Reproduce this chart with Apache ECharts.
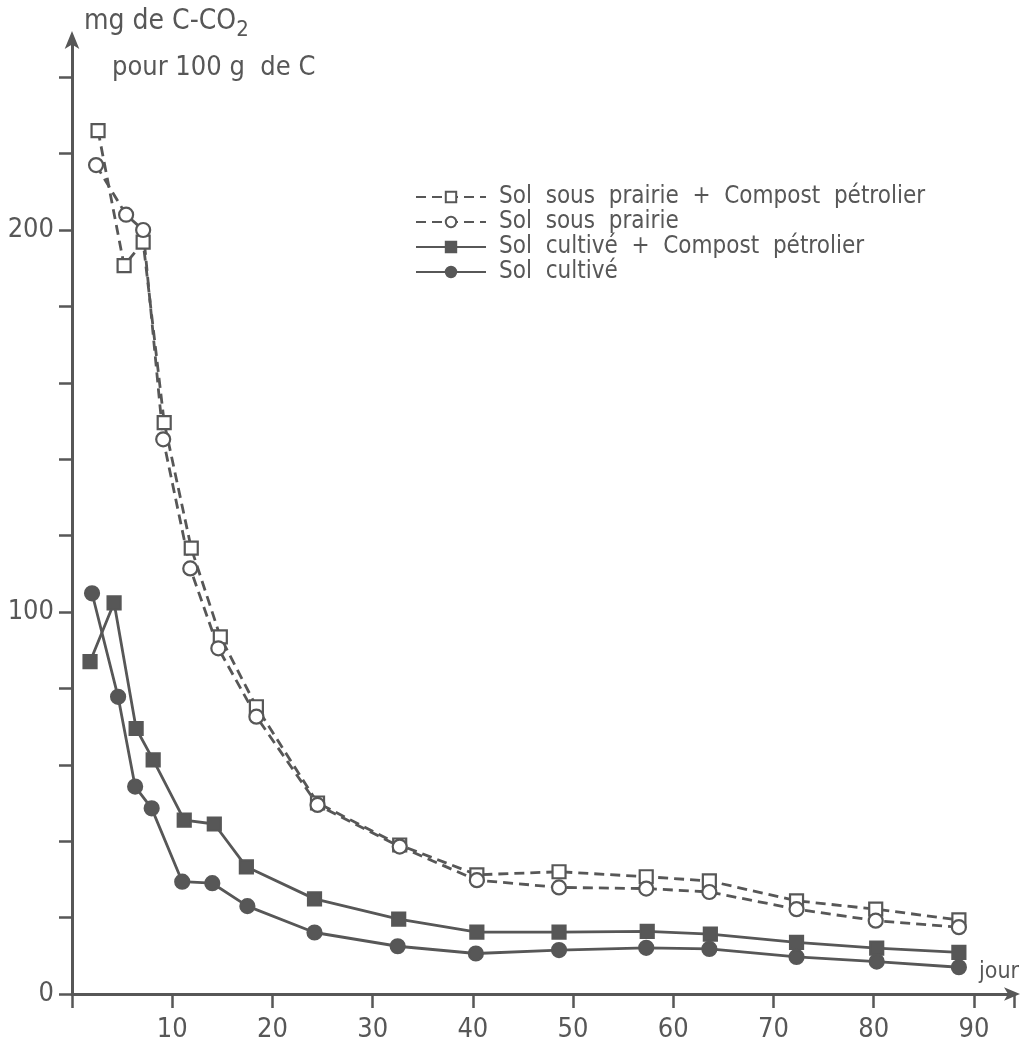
<!DOCTYPE html>
<html>
<head>
<meta charset="utf-8">
<title>Dégagement de C-CO2</title>
<script src="https://cdn.jsdelivr.net/npm/echarts@6/dist/echarts.min.js"></script>
<style>
  html, body { margin: 0; padding: 0; background: #ffffff; }
  #chart { width: 1020px; height: 1050px; }
</style>
</head>
<body>
<div id="chart"></div>
<script>
// Incubation days (jour) and C-CO2 released (mg per 100 g of C) for each soil
const prairieCompostDays = [2.6, 5.2, 7.1, 9.2, 11.9, 14.8, 18.4, 24.5, 32.7, 40.4, 48.6, 57.3, 63.6, 72.3, 80.2, 88.5];
const prairieCompostCO2  = [226, 190.7, 196.8, 149.6, 116.7, 93.5, 75.2, 50, 39, 31.2, 32, 30.7, 29.6, 24.4, 22.2, 19.4];

const prairieDays = [2.4, 5.4, 7.1, 9.1, 11.8, 14.6, 18.4, 24.5, 32.7, 40.4, 48.6, 57.3, 63.6, 72.3, 80.2, 88.5];
const prairieCO2  = [217, 204, 200, 145.2, 111.4, 90.5, 72.6, 49.5, 38.6, 29.8, 27.9, 27.6, 26.7, 22.2, 19.2, 17.5];

const cultiveCompostDays = [1.8, 4.2, 6.4, 8.1, 11.2, 14.2, 17.4, 24.2, 32.6, 40.4, 48.6, 57.4, 63.7, 72.3, 80.3, 88.5];
const cultiveCompostCO2  = [87, 102.4, 69.5, 61.3, 45.5, 44.5, 33.3, 24.9, 19.6, 16.2, 16.2, 16.4, 15.7, 13.5, 12, 10.9];

const cultiveDays = [2.0, 4.6, 6.3, 7.95, 11.0, 14.0, 17.5, 24.2, 32.5, 40.3, 48.6, 57.3, 63.6, 72.3, 80.3, 88.5];
const cultiveCO2  = [104.9, 77.8, 54.3, 48.6, 29.4, 29.0, 23.0, 16.1, 12.5, 10.6, 11.5, 12.1, 11.8, 9.7, 8.5, 7.0];

const seriesNames = [
  'Sol sous prairie + Compost pétrolier',
  'Sol sous prairie',
  'Sol cultivé + Compost pétrolier',
  'Sol cultivé'
];

const xLabelled = [10, 20, 30, 40, 50, 60, 70, 80, 90];
const yTicks = [0, 20, 40, 60, 80, 100, 120, 140, 160, 180, 200, 220, 240];
const yLabelled = [0, 100, 200];

const ink = '#575757';
const font = '"DejaVu Sans Condensed", "Liberation Sans Narrow", "DejaVu Sans", sans-serif';

function pairs(xs, ys) { return xs.map((x, i) => [x, ys[i]]); }

const chart = echarts.init(document.getElementById('chart'), null, { renderer: 'canvas' });

function lineSeries(name, xs, ys, symbol, filled, dashed) {
  return {
    name: name,
    type: 'line',
    data: pairs(xs, ys),
    symbol: symbol,
    symbolSize: symbol === 'circle' ? 14 : 13,
    showAllSymbol: true,
    smooth: false,
    lineStyle: { color: ink, width: 2.8, type: dashed ? [10, 6] : 'solid' },
    itemStyle: { color: filled ? ink : '#ffffff', borderColor: ink, borderWidth: 2.2 },
    emphasis: { disabled: true },
    z: 3
  };
}

chart.setOption({
  animation: false,
  backgroundColor: '#ffffff',
  textStyle: { fontFamily: font, color: ink },
  grid: { left: 72, right: 6, top: 39, bottom: 56, containLabel: false },
  legend: {
    left: 410,
    top: 180,
    orient: 'vertical',
    itemWidth: 70,
    itemHeight: 13,
    itemGap: 1,
    data: seriesNames,
    // wide word spacing, as in the hand-lettered key
    formatter: name => name.split(' ').join('  '),
    textStyle: { fontFamily: font, fontSize: 24, color: ink, padding: [0, 0, 0, 8] }
  },
  xAxis: {
    type: 'value',
    min: 0,
    max: 94,
    interval: 10,
    axisLine: {
      show: true,
      lineStyle: { color: ink, width: 3 },
      symbol: ['none', 'arrow'],
      symbolSize: [10, 16],
      symbolOffset: [0, 6]
    },
    axisTick: {
      show: true,
      inside: false,
      length: 14,
      lineStyle: { color: ink, width: 2.5 }
    },
    axisLabel: {
      show: true,
      margin: 22,
      fontSize: 27,
      fontFamily: font,
      color: ink,
      formatter: v => (xLabelled.indexOf(v) >= 0 ? String(v) : '')
    },
    splitLine: { show: false }
  },
  yAxis: {
    type: 'value',
    min: 0,
    max: 250,
    interval: 20,
    axisLine: {
      show: true,
      lineStyle: { color: ink, width: 3 },
      symbol: ['none', 'arrow'],
      symbolSize: [11, 18],
      symbolOffset: [0, 8]
    },
    axisTick: {
      show: true, inside: false, length: 13,
      customValues: yTicks,
      lineStyle: { color: ink, width: 2.5 }
    },
    axisLabel: {
      margin: 18,
      fontSize: 27,
      fontFamily: font,
      color: ink,
      customValues: yLabelled
    },
    splitLine: { show: false }
  },
  graphic: [
    {
      type: 'text',
      left: 84,
      top: 8,
      style: {
        text: 'mg de C-CO{sub|2}',
        font: '28px ' + font,
        fill: ink,
        rich: { sub: { fontSize: 22, fontFamily: font, fill: ink, padding: [16, 0, 0, 0] } }
      }
    },
    {
      type: 'text',
      left: 112,
      top: 54,
      style: { text: 'pour 100 g  de C', font: '27px ' + font, fill: ink }
    },
    {
      type: 'text',
      left: 979,
      top: 961,
      style: { text: 'jour', font: '23px ' + font, fill: ink }
    }
  ],
  series: [
    lineSeries(seriesNames[0], prairieCompostDays, prairieCompostCO2, 'rect', false, true),
    lineSeries(seriesNames[1], prairieDays, prairieCO2, 'circle', false, true),
    lineSeries(seriesNames[2], cultiveCompostDays, cultiveCompostCO2, 'rect', true, false),
    lineSeries(seriesNames[3], cultiveDays, cultiveCO2, 'circle', true, false)
  ]
});
</script>
</body>
</html>
